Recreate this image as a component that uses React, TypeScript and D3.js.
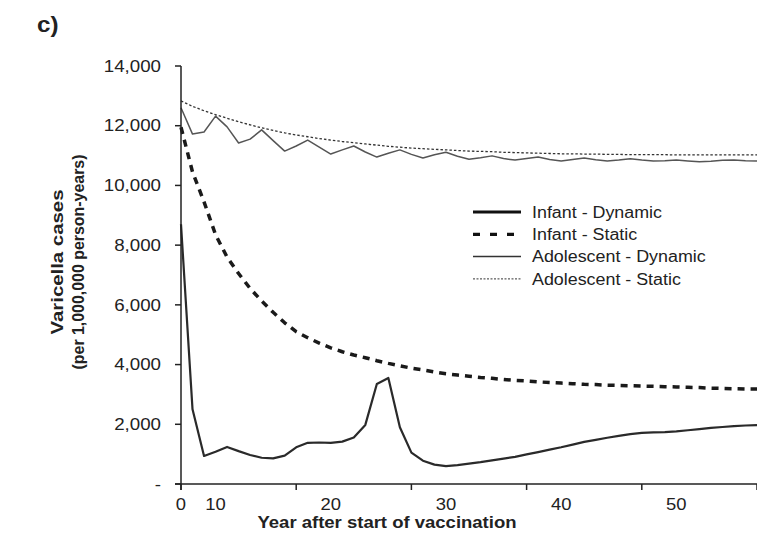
import React from "react";
import * as d3 from "d3";

// ---- data (index = yearly point after start of vaccination) ----
const infantDynamic = [8700, 2500, 940, 1080, 1240, 1100, 970, 880, 860, 950, 1230, 1380, 1390, 1380, 1420, 1560, 1980, 3350, 3550, 1900, 1050, 780, 650, 600, 630, 680, 730, 790, 850, 910, 990, 1070, 1150, 1230, 1320, 1410, 1480, 1550, 1610, 1670, 1710, 1730, 1740, 1760, 1800, 1840, 1880, 1910, 1940, 1960, 1970];
const infantStatic = [11950, 10450, 9450, 8350, 7600, 7050, 6550, 6130, 5750, 5400, 5100, 4900, 4720, 4560, 4430, 4320, 4230, 4130, 4040, 3960, 3880, 3820, 3750, 3690, 3650, 3610, 3570, 3540, 3500, 3470, 3450, 3420, 3400, 3380, 3360, 3340, 3330, 3310, 3300, 3290, 3280, 3270, 3260, 3250, 3240, 3230, 3210, 3200, 3190, 3180, 3180];
const adolescentDynamic = [12600, 11720, 11790, 12320, 11960, 11420, 11550, 11860, 11500, 11150, 11320, 11520, 11280, 11050, 11190, 11320, 11120, 10950, 11080, 11190, 11040, 10920, 11030, 11110, 10980, 10880, 10930, 10990, 10900, 10850, 10900, 10950, 10870, 10820, 10870, 10920, 10860, 10820, 10850, 10890, 10850, 10820, 10830, 10850, 10820, 10790, 10810, 10840, 10850, 10830, 10820];
const adolescentStatic = [12830, 12650, 12500, 12370, 12250, 12130, 12030, 11930, 11840, 11760, 11690, 11630, 11570, 11520, 11470, 11430, 11390, 11350, 11310, 11280, 11250, 11230, 11210, 11190, 11170, 11150, 11140, 11130, 11110, 11100, 11090, 11080, 11070, 11060, 11060, 11050, 11050, 11040, 11040, 11030, 11030, 11030, 11030, 11020, 11020, 11020, 11020, 11020, 11020, 11020, 11020];

const xTickIndex = [0, 10, 20, 30, 40, 50];
const xLabelIndex = [0, 3, 13, 23, 33, 43];
const xLabels = ["0", "10", "20", "30", "40", "50"];
const yTicks = [0, 2000, 4000, 6000, 8000, 10000, 12000, 14000];

const seriesNames = ["Infant - Dynamic", "Infant - Static", "Adolescent - Dynamic", "Adolescent - Static"];

const FONT = "'Liberation Sans', Arial, Helvetica, sans-serif";

let _ctx: CanvasRenderingContext2D | null = null;
function measure(text: string, size: number, bold = false): number {
  if (!_ctx) _ctx = document.createElement("canvas").getContext("2d");
  if (!_ctx) return text.length * size * 0.55;
  _ctx.font = `${bold ? "bold " : ""}${size}px 'Liberation Sans', Arial, sans-serif`;
  return _ctx.measureText(text).width;
}

function SText(props: any) {
  const { text, size, bold, stretch, ...rest } = props;
  const w = measure(text, size, bold) * stretch;
  return (
    <text
      {...rest}
      fontFamily={FONT}
      fontSize={size}
      fontWeight={bold ? "bold" : "normal"}
      textLength={w}
      lengthAdjust="spacingAndGlyphs"
    >
      {text}
    </text>
  );
}

export default function App() {
  const W = 757, H = 540;
  const x = d3.scaleLinear().domain([0, 50]).range([181, 757]);
  const y = d3.scaleLinear().domain([0, 14000]).range([484, 66]);
  const idx = infantDynamic.map((_, i) => i);
  const line = (vals: number[]) =>
    d3.line<number>().x((_, i) => x(idx[i])).y((v) => y(v))(vals) || "";

  const styles = [
    { stroke: "#2a2a2a", width: 2.2, dash: undefined as string | undefined },
    { stroke: "#1a1a1a", width: 3.5, dash: "7,6" },
    { stroke: "#555", width: 1.5, dash: undefined },
    { stroke: "#333", width: 1.3, dash: "2.5,2" },
  ];
  const series = [infantDynamic, infantStatic, adolescentDynamic, adolescentStatic];
  const legendStyles = [
    { stroke: "#111", width: 3, dash: undefined as string | undefined },
    { stroke: "#111", width: 3.2, dash: "7,10" },
    { stroke: "#333", width: 1.5, dash: undefined },
    { stroke: "#333", width: 1, dash: "2,1.5" },
  ];
  const legendStretch = 130 / measure(seriesNames[0], 16);

  return (
    <svg width={W} height={H} style={{ position: "absolute", left: 0, top: 0, background: "#fff" }}>
      <SText text="c)" size={22} bold stretch={1.1} x={37} y={32} fill="#222" />

      {/* series */}
      {series.map((s, i) => (
        <path
          key={i}
          d={line(s)}
          fill="none"
          stroke={styles[i].stroke}
          strokeWidth={styles[i].width}
          strokeDasharray={styles[i].dash}
          strokeLinejoin="round"
        />
      ))}

      {/* axes */}
      <line x1={x(0)} x2={x(0)} y1={y(14000)} y2={y(0) + 6} stroke="#222" strokeWidth={1.5} />
      <line x1={x(0) - 6} x2={x(50)} y1={y(0)} y2={y(0)} stroke="#222" strokeWidth={1.5} />
      {yTicks.map((t) => (
        <g key={t}>
          <line x1={x(0) - 6} x2={x(0)} y1={y(t)} y2={y(t)} stroke="#222" strokeWidth={1.5} />
          <SText
            text={t === 0 ? "-" : d3.format(",")(t)}
            size={16}
            stretch={1.17}
            x={161}
            y={y(t)}
            dy="0.36em"
            textAnchor="end"
            fill="#222"
          />
        </g>
      ))}
      {xTickIndex.map((t) => (
        <line key={t} x1={x(t)} x2={x(t)} y1={y(0)} y2={y(0) + 6} stroke="#222" strokeWidth={1.5} />
      ))}
      {xLabels.map((l, i) => (
        <SText key={l} text={l} size={16} stretch={1.15} x={x(xLabelIndex[i])} y={510} textAnchor="middle" fill="#222" />
      ))}

      <SText text="Year after start of vaccination" size={16} bold stretch={259 / measure("Year after start of vaccination", 16, true)} x={387} y={528} textAnchor="middle" fill="#222" />
      <g transform="translate(63,262) rotate(-90)">
        <SText text="Varicella cases" size={16} bold stretch={145 / measure("Varicella cases", 16, true)} x={0} y={0} textAnchor="middle" fill="#222" />
      </g>
      <g transform="translate(84,262) rotate(-90)">
        <SText text="(per 1,000,000 person-years)" size={16} bold stretch={215 / measure("(per 1,000,000 person-years)", 16, true)} x={0} y={0} textAnchor="middle" fill="#222" />
      </g>

      {/* legend */}
      {seriesNames.map((n, i) => {
        const ly = 212 + i * 22.3;
        return (
          <g key={n}>
            <line x1={473} x2={521} y1={ly} y2={ly} stroke={legendStyles[i].stroke} strokeWidth={legendStyles[i].width} strokeDasharray={legendStyles[i].dash} />
            <SText text={n} size={16} stretch={legendStretch} x={532} y={ly} dy="0.36em" fill="#222" />
          </g>
        );
      })}
    </svg>
  );
}
